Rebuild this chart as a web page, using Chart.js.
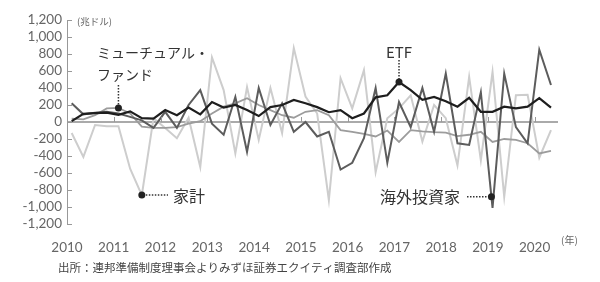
<!DOCTYPE html>
<html lang="ja">
<head>
<meta charset="utf-8">
<script src="https://cdn.jsdelivr.net/npm/chart.js@4.4.1/dist/chart.umd.min.js"></script>
<style>
  html, body { margin: 0; padding: 0; background: #fff; }
  #chart { display: block; }
</style>
</head>
<body>
<canvas id="chart" width="600" height="282"></canvas>
<script>
// =================== DATA (quarterly, 兆ドル) ===================
const quarters = [
  '2010Q1','2010Q2','2010Q3','2010Q4','2011Q1','2011Q2','2011Q3','2011Q4',
  '2012Q1','2012Q2','2012Q3','2012Q4','2013Q1','2013Q2','2013Q3','2013Q4',
  '2014Q1','2014Q2','2014Q3','2014Q4','2015Q1','2015Q2','2015Q3','2015Q4',
  '2016Q1','2016Q2','2016Q3','2016Q4','2017Q1','2017Q2','2017Q3','2017Q4',
  '2018Q1','2018Q2','2018Q3','2018Q4','2019Q1','2019Q2','2019Q3','2019Q4',
  '2020Q1','2020Q2'
];
const yearTicks = [2010, 2011, 2012, 2013, 2014, 2015, 2016, 2017, 2018, 2019, 2020];

const etf = [10, 95, 105, 110, 85, 125, 45, 40, 140, 80, 170, 90, 235, 170, 200, 140,
  70, 175, 200, 260, 220, 175, 115, 140, 45, 100, 290, 315, 470, 375, 260, 295,
  245, 180, 285, 120, 120, 180, 160, 180, 280, 170];
const mutualFunds = [40, 30, 80, 160, 165, 100, -55, -70, -70, -60, -20, 10, 100, 180, 220, 280,
  200, 140, 80, 50, 120, 140, 80, -95, -115, -140, -170, -100, -235, -95, -110, -120,
  -125, -165, -150, -115, -235, -200, -210, -250, -370, -340];
const households = [-130, -410, -35, -50, -50, -550, -860, 45, -70, -190, 50, -530, 760, 375, -370, 410,
  -210, 400, -130, 870, 300, 100, -920, 515, 160, 610, -590, 45, 160, 315, -230, 200,
  45, -510, 530, -450, 590, -880, 315, 320, -420, -95];
const foreign = [220, 90, 110, 120, 100, 60, 20, -70, 120, -70, 200, 375, -20, -150, 295, -350,
  400, -35, 220, -115, 0, -170, -115, -560, -480, -190, 400, -480, 235, -60, 400, -115,
  570, -250, -270, 350, -1010, 570, -60, -250, 850, 435];

// quarter label -> position on the year axis (mid-quarter)
const qx = q => Number(q.slice(0, 4)) + (Number(q.slice(5)) - 1) * 0.25 + 0.1;
const toPoints = arr => arr.map((v, i) => ({ x: qx(quarters[i]), y: v }));

const JP = '"Noto Sans CJK JP", "Noto Sans", sans-serif';
const NUM = 'Lato, "Noto Sans", sans-serif';

// =================== DECORATIONS ===================
const decor = {
  id: 'decor',
  afterDatasetsDraw(chart) {
    const { ctx, scales: { x, y }, chartArea } = chart;
    ctx.save();

    // inward ticks on y axis
    ctx.strokeStyle = '#999';
    ctx.lineWidth = 1;
    y.ticks.forEach(t => {
      const py = Math.round(y.getPixelForValue(t.value)) + 0.5;
      ctx.beginPath();
      ctx.moveTo(chartArea.left, py);
      ctx.lineTo(chartArea.left + 5, py);
      ctx.stroke();
    });
    // year ticks on zero line
    const y0 = y.getPixelForValue(0);
    yearTicks.forEach(yr => {
      const px = Math.round(x.getPixelForValue(yr)) + 0.5;
      ctx.beginPath();
      ctx.moveTo(px, y0);
      ctx.lineTo(px, y0 - 5);
      ctx.stroke();
    });

    const dot = (px, py) => {
      ctx.fillStyle = '#222';
      ctx.beginPath();
      ctx.arc(px, py, 3.5, 0, Math.PI * 2);
      ctx.fill();
    };
    const dotted = (x1, y1, x2, y2) => {
      ctx.save();
      ctx.strokeStyle = '#333';
      ctx.lineWidth = 1.5;
      ctx.setLineDash([1.5, 1.5]);
      ctx.beginPath();
      ctx.moveTo(x1, y1);
      ctx.lineTo(x2, y2);
      ctx.stroke();
      ctx.restore();
    };
    const text = (s, px, py, size, align = 'left', color = '#333', family = JP) => {
      ctx.fillStyle = color;
      ctx.font = `${size}px ${family}`;
      ctx.textAlign = align;
      ctx.textBaseline = 'middle';
      ctx.fillText(s, px, py);
    };

    // ETF
    const pE = chart.getDatasetMeta(0).data[28];
    dotted(pE.x, 60, pE.x, pE.y - 3);
    dot(pE.x, pE.y);
    text('ETF', pE.x, 52, 15, 'center');

    // mutual funds
    const pM = chart.getDatasetMeta(2).data[4];
    dotted(pM.x, 85, pM.x, pM.y - 3);
    dot(pM.x, pM.y);
    text('ミューチュアル・', 97, 53, 14);
    text('ファンド', 97, 75, 14);

    // households
    const pH = chart.getDatasetMeta(3).data[6];
    dotted(pH.x + 4, pH.y, 168, pH.y);
    dot(pH.x, pH.y);
    text('家計', 173, pH.y + 1, 16);

    // foreign investors: point on the falling segment
    const fa = chart.getDatasetMeta(1).data[35], fb = chart.getDatasetMeta(1).data[36];
    const ty = y.getPixelForValue(-880);
    const t = (ty - fa.y) / (fb.y - fa.y);
    const fx = fa.x + (fb.x - fa.x) * t;
    dotted(467, ty, fx - 4, ty);
    dot(fx, ty);
    text('海外投資家', 380, ty, 16);

    // units and source
    text('(兆ドル)', 77, 21, 9.5, 'left', '#666');
    text('(年)', 561, 240, 10, 'left', '#666');
    text('出所：連邦準備制度理事会よりみずほ証券エクイティ調査部作成', 58, 268, 11.5, 'left', '#444');

    ctx.restore();
  }
};

// =================== CHART ===================
new Chart(document.getElementById('chart').getContext('2d'), {
  type: 'line',
  data: {
    datasets: [
      { label: 'ETF', data: toPoints(etf), borderColor: '#1e1e1e', borderWidth: 2.2 },
      { label: '海外投資家', data: toPoints(foreign), borderColor: '#5c5c5c', borderWidth: 2 },
      { label: 'ミューチュアル・ファンド', data: toPoints(mutualFunds), borderColor: '#9c9c9c', borderWidth: 1.8 },
      { label: '家計', data: toPoints(households), borderColor: '#cdcdcd', borderWidth: 2 }
    ]
  },
  options: {
    responsive: false,
    devicePixelRatio: 1,
    animation: false,
    layout: { padding: { top: 20, right: 42, left: 0, bottom: 0 } },
    plugins: { legend: { display: false }, tooltip: { enabled: false } },
    elements: { point: { radius: 0 }, line: { tension: 0, fill: false } },
    scales: {
      x: {
        type: 'linear',
        min: 2010,
        max: 2020.5,
        grid: { display: false },
        border: { display: false },
        ticks: {
          stepSize: 1,
          includeBounds: false,
          padding: 8,
          autoSkip: false,
          maxRotation: 0,
          color: '#666',
          font: { family: NUM, size: 13.5 },
          callback: v => Number.isInteger(v) ? String(v) : ''
        },
        afterFit: s => { s.height = 58; }
      },
      y: {
        min: -1200,
        max: 1200,
        grid: {
          drawTicks: false,
          color: c => (c.tick && c.tick.value === 0) ? '#aaa' : 'rgba(0,0,0,0)',
          lineWidth: c => (c.tick && c.tick.value === 0) ? 2 : 0
        },
        border: { display: true, color: '#999', width: 1 },
        ticks: {
          stepSize: 200,
          autoSkip: false,
          padding: 5,
          color: '#666',
          font: { family: NUM, size: 13.5 },
          callback: v => v.toLocaleString('en-US')
        },
        afterFit: s => { s.width = 67; }
      }
    }
  },
  plugins: [decor]
});
</script>
</body>
</html>
